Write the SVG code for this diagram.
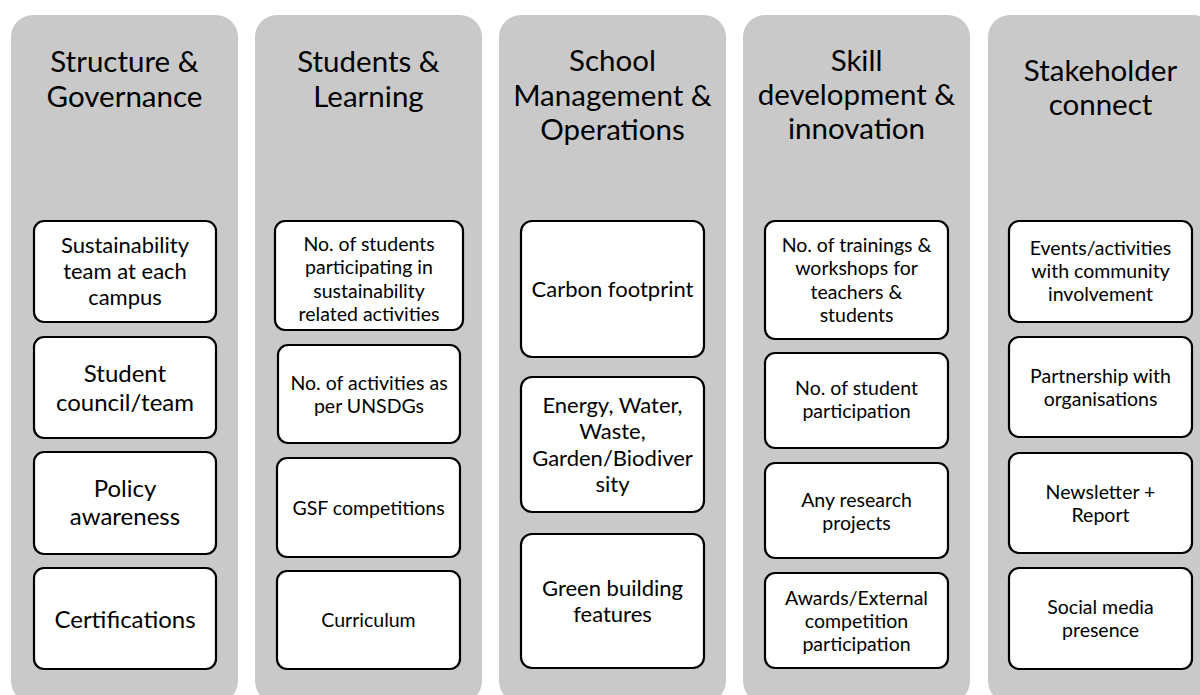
<svg xmlns="http://www.w3.org/2000/svg" width="1200" height="695" viewBox="0 0 1200 695">
<style>
.col{fill:#c9c9c9;stroke:none}
.box{fill:#ffffff;stroke:#000000;stroke-width:2.2}
text{font-family:Lato,"Open Sans","Liberation Sans",sans-serif;fill:#000000;text-anchor:middle}
.h{font-size:29.5px}
.b26{font-size:24px}
.b24{font-size:22px}
.b21{font-size:19.5px}
</style>
<rect width="1200" height="695" fill="#ffffff"/>
<g id="col1">
<rect class="col" x="11" y="15" width="227" height="688" rx="22"/>
<text class="h" x="124.5" y="72">Structure &amp;</text>
<text class="h" x="124.5" y="107">Governance</text>
</g>
<g id="col2">
<rect class="col" x="255" y="15" width="227" height="688" rx="22"/>
<text class="h" x="368.5" y="72">Students &amp;</text>
<text class="h" x="368.5" y="107">Learning</text>
</g>
<g id="col3">
<rect class="col" x="499" y="15" width="227" height="688" rx="22"/>
<text class="h" x="612.5" y="71">School</text>
<text class="h" x="612.5" y="105.5">Management &amp;</text>
<text class="h" x="612.5" y="140">Operations</text>
</g>
<g id="col4">
<rect class="col" x="743" y="15" width="227" height="688" rx="22"/>
<text class="h" x="856.5" y="71">Skill</text>
<text class="h" x="856.5" y="105">development &amp;</text>
<text class="h" x="856.5" y="139">innovation</text>
</g>
<g id="col5">
<rect class="col" x="988" y="15" width="227" height="688" rx="22"/>
<text class="h" x="1100.5" y="81">Stakeholder</text>
<text class="h" x="1100.5" y="115">connect</text>
</g>
<g id="c1b1"><rect class="box" x="34" y="221" width="182" height="101" rx="10"/>
<text class="b24" x="125" y="253">Sustainability</text><text class="b24" x="125" y="279">team at each</text><text class="b24" x="125" y="305">campus</text></g>
<g id="c1b2"><rect class="box" x="34" y="337" width="182" height="101" rx="10"/>
<text class="b26" x="125" y="382">Student</text><text class="b26" x="125" y="411">council/team</text></g>
<g id="c1b3"><rect class="box" x="34" y="452" width="182" height="102" rx="10"/>
<text class="b26" x="125" y="497">Policy</text><text class="b26" x="125" y="525">awareness</text></g>
<g id="c1b4"><rect class="box" x="34" y="568" width="182" height="101" rx="10"/>
<text class="b26" x="125" y="628">Certifications</text></g>
<g id="c2b1"><rect class="box" x="275" y="221" width="188" height="109" rx="10"/>
<text class="b21" x="369" y="251">No. of students</text><text class="b21" x="369" y="274">participating in</text><text class="b21" x="369" y="297.5">sustainability</text><text class="b21" x="369" y="321">related activities</text></g>
<g id="c2b2"><rect class="box" x="278" y="345" width="182" height="98" rx="10"/>
<text class="b21" x="369" y="390">No. of activities as</text><text class="b21" x="369" y="413">per UNSDGs</text></g>
<g id="c2b3"><rect class="box" x="277" y="458" width="183" height="99" rx="10"/>
<text class="b21" x="368.5" y="515">GSF competitions</text></g>
<g id="c2b4"><rect class="box" x="277" y="571" width="183" height="98" rx="10"/>
<text class="b21" x="368.5" y="627">Curriculum</text></g>
<g id="c3b1"><rect class="box" x="521" y="221" width="183" height="136" rx="11"/>
<text class="b24" x="612.5" y="297">Carbon footprint</text></g>
<g id="c3b2"><rect class="box" x="521" y="377" width="183" height="135" rx="11"/>
<text class="b24" x="612.5" y="412.5">Energy, Water,</text><text class="b24" x="612.5" y="439">Waste,</text><text class="b24" x="612.5" y="465.5">Garden/Biodiver</text><text class="b24" x="612.5" y="492">sity</text></g>
<g id="c3b3"><rect class="box" x="521" y="534" width="183" height="134" rx="11"/>
<text class="b24" x="612.5" y="596">Green building</text><text class="b24" x="612.5" y="622">features</text></g>
<g id="c4b1"><rect class="box" x="765" y="221" width="183" height="118" rx="10"/>
<text class="b21" x="856.5" y="252">No. of trainings &amp;</text><text class="b21" x="856.5" y="275.3">workshops for</text><text class="b21" x="856.5" y="298.6">teachers &amp;</text><text class="b21" x="856.5" y="322">students</text></g>
<g id="c4b2"><rect class="box" x="765" y="353" width="183" height="95" rx="10"/>
<text class="b21" x="856.5" y="395">No. of student</text><text class="b21" x="856.5" y="418">participation</text></g>
<g id="c4b3"><rect class="box" x="765" y="463" width="183" height="95" rx="10"/>
<text class="b21" x="856.5" y="507">Any research</text><text class="b21" x="856.5" y="530">projects</text></g>
<g id="c4b4"><rect class="box" x="765" y="573" width="183" height="95" rx="10"/>
<text class="b21" x="856.5" y="605">Awards/External</text><text class="b21" x="856.5" y="628">competition</text><text class="b21" x="856.5" y="651">participation</text></g>
<g id="c5b1"><rect class="box" x="1009" y="221" width="183" height="101" rx="10"/>
<text class="b21" x="1100.5" y="255">Events/activities</text><text class="b21" x="1100.5" y="278">with community</text><text class="b21" x="1100.5" y="301">involvement</text></g>
<g id="c5b2"><rect class="box" x="1009" y="337" width="183" height="100" rx="10"/>
<text class="b21" x="1100.5" y="383">Partnership with</text><text class="b21" x="1100.5" y="406">organisations</text></g>
<g id="c5b3"><rect class="box" x="1009" y="453" width="183" height="100" rx="10"/>
<text class="b21" x="1100.5" y="499">Newsletter +</text><text class="b21" x="1100.5" y="522">Report</text></g>
<g id="c5b4"><rect class="box" x="1009" y="568" width="183" height="101" rx="10"/>
<text class="b21" x="1100.5" y="614">Social media</text><text class="b21" x="1100.5" y="637">presence</text></g>
<g id="connectors"></g>
</svg>
